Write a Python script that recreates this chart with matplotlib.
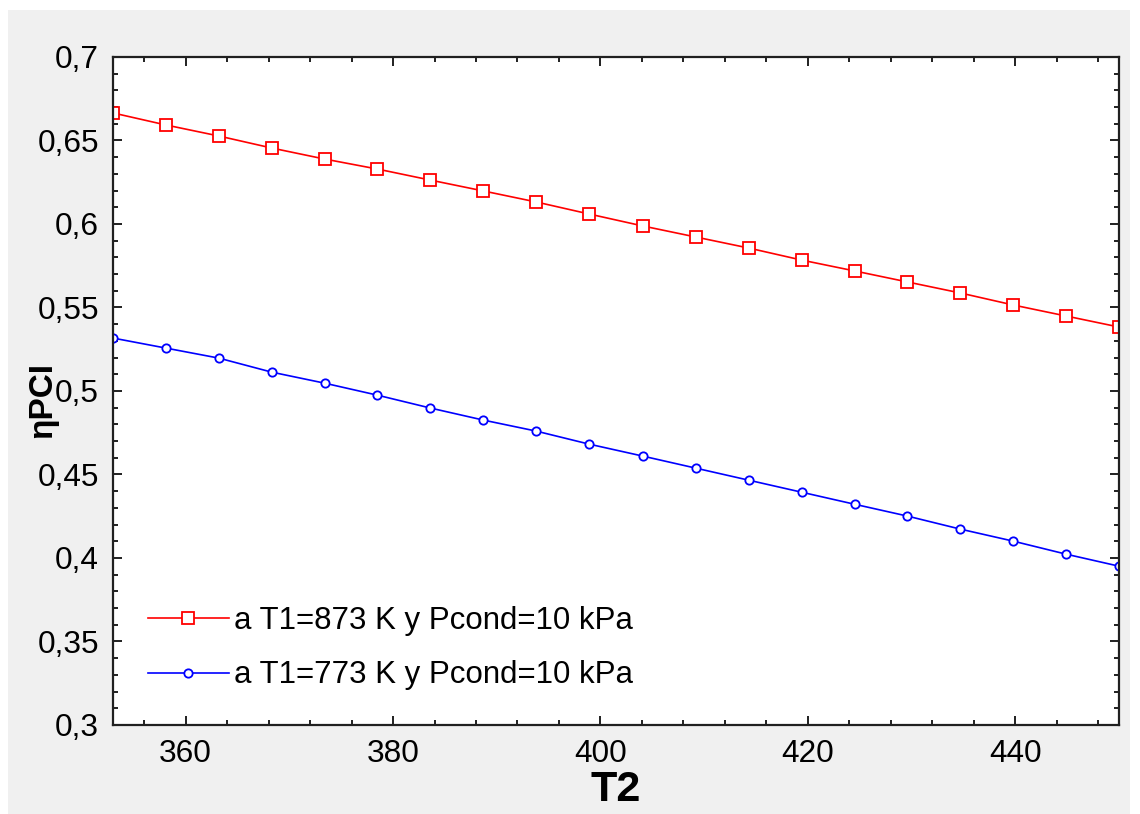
import matplotlib
matplotlib.use("Agg")
import matplotlib.pyplot as plt
from matplotlib.patches import Rectangle
from matplotlib.ticker import MultipleLocator, FuncFormatter

plt.rcParams['font.family'] = ['Liberation Sans', 'DejaVu Sans']

# T2 values (K)
t2 = [353.0, 358.1, 363.2, 368.3, 373.4, 378.5, 383.6, 388.7, 393.8, 398.9,
      404.1, 409.2, 414.3, 419.4, 424.5, 429.6, 434.7, 439.8, 444.9, 450.0]

# eta PCI at T1=873 K
eta_873 = [0.6665, 0.6593, 0.6527, 0.6455, 0.6389, 0.6329, 0.6263, 0.6198, 0.6132, 0.6060,
           0.5988, 0.5922, 0.5856, 0.5784, 0.5719, 0.5653, 0.5587, 0.5515, 0.5449, 0.5383]

# eta PCI at T1=773 K
eta_773 = [0.5317, 0.5257, 0.5197, 0.5113, 0.5047, 0.4975, 0.4898, 0.4826, 0.4760, 0.4682,
           0.4610, 0.4538, 0.4466, 0.4394, 0.4322, 0.4251, 0.4173, 0.4101, 0.4023, 0.3951]

labels = ['a T1=873 K y Pcond=10 kPa', 'a T1=773 K y Pcond=10 kPa']

W, H = 1140, 814
fig = plt.figure(figsize=(W / 100, H / 100), dpi=100, facecolor='white')

# grey panel behind the plot
fig.patches.append(Rectangle((8 / W, 0), (1130 - 8) / W, 1 - 10 / H,
                             transform=fig.transFigure, facecolor='#f0f0f0',
                             edgecolor='none', zorder=-10))

ax = fig.add_axes([113 / W, 1 - 725 / H, (1119 - 113) / W, (725 - 57) / H])
ax.set_facecolor('white')

ax.plot(t2, eta_873, color='#ff0000', lw=1.2, marker='s', ms=8.8,
        mfc='white', mec='#ff0000', mew=1.3, label=labels[0])
ax.plot(t2, eta_773, color='#0000ff', lw=1.2, marker='o', ms=6,
        mfc='white', mec='#0000ff', mew=1.3, label=labels[1])

ax.set_xlim(353, 450)
ax.set_ylim(0.3, 0.7)
ax.xaxis.set_major_locator(MultipleLocator(20))
ax.xaxis.set_minor_locator(MultipleLocator(4))
ax.yaxis.set_major_locator(MultipleLocator(0.05))
ax.yaxis.set_minor_locator(MultipleLocator(0.01))

comma = FuncFormatter(lambda v, p: ('%g' % round(v, 3)).replace('.', ','))
ax.yaxis.set_major_formatter(comma)

ax.tick_params(which='both', direction='in', top=True, right=True,
               color='#202020', width=1.4, labelsize=22.8)
ax.tick_params(axis='both', which='major', length=6.5, pad=10)
ax.tick_params(axis='both', which='minor', length=3.6)
for lab in ax.get_xticklabels() + ax.get_yticklabels():
    lab.set_color('black')
for s in ax.spines.values():
    s.set_linewidth(1.6)
    s.set_color('#202020')

fig.text(616 / W, 1 - 790 / H, 'T2', ha='center', va='center',
         fontsize=31, fontweight='bold')
fig.text(43 / W, 1 - 400 / H, 'ηPCI', ha='center', va='center', rotation=90,
         fontsize=24, fontweight='bold')

ax.legend(loc='center left', bbox_to_anchor=((148 - 113) / 1006, (725 - 648) / 668),
          frameon=False, fontsize=22.5, handlelength=2.58, handletextpad=0.16,
          borderpad=0, borderaxespad=0, labelspacing=0.8, numpoints=1)

fig.savefig('out.png', dpi=100, facecolor=fig.get_facecolor())
